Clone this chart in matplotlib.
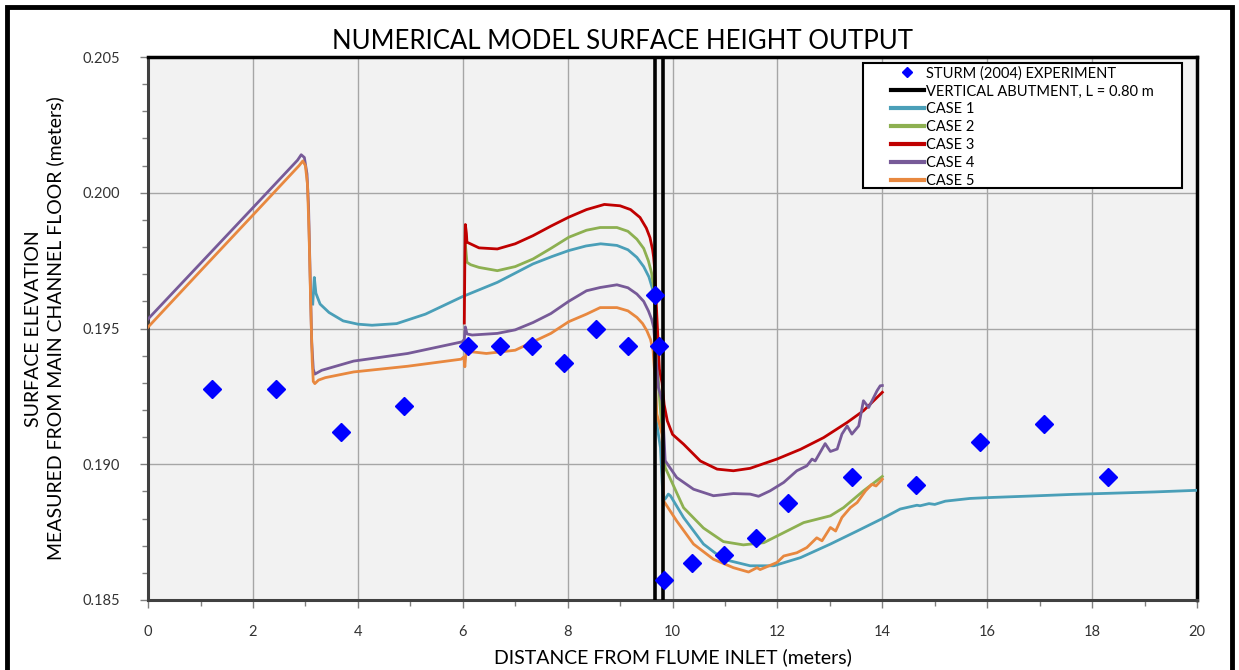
import numpy as np
import matplotlib
matplotlib.use('Agg')
import matplotlib.pyplot as plt
from matplotlib.lines import Line2D
from matplotlib.patches import Rectangle
from matplotlib.ticker import MultipleLocator, FormatStrFormatter

# Sturm (2004) experiment
sturm_x = [1.22, 2.44, 3.67, 4.88, 6.10, 6.71, 7.32, 7.93, 8.54, 9.15, 9.67, 9.75,
           9.83, 10.37, 10.98, 11.59, 12.21, 13.42, 14.65, 15.87, 17.09, 18.31]
sturm_y = [0.19276, 0.19276, 0.19117, 0.19213, 0.19436, 0.19436, 0.19436, 0.19372,
           0.19500, 0.19436, 0.19625, 0.19436, 0.18575, 0.18638, 0.18664, 0.18730,
           0.18858, 0.18954, 0.18923, 0.19083, 0.19147, 0.18954]

# abutment faces
abutment_x = [9.67, 9.82]

# numerical model cases, (x, y) pairs
case1 = [(3.14, 0.19590), (3.17, 0.19688), (3.20, 0.19630), (3.28, 0.19590), (3.45, 0.19559),
         (3.72, 0.19528), (4.00, 0.19516), (4.27, 0.19512), (4.74, 0.19518), (5.29, 0.19553),
         (5.99, 0.19617), (6.66, 0.19670), (7.34, 0.19738), (7.70, 0.19765), (8.02, 0.19787),
         (8.35, 0.19804), (8.63, 0.19812), (8.94, 0.19806), (9.15, 0.19790), (9.32, 0.19762),
         (9.45, 0.19728), (9.55, 0.19690), (9.63, 0.19639), (9.66, 0.19610),
         (9.69, 0.19160), (9.77, 0.19061), (9.82, 0.18865), (9.87, 0.18875), (9.92, 0.18890),
         (9.96, 0.18884), (10.21, 0.18804), (10.59, 0.18706), (10.97, 0.18650), (11.48, 0.18626),
         (11.93, 0.18626), (12.44, 0.18656), (13.01, 0.18706), (13.52, 0.18754), (13.98, 0.18798),
         (14.34, 0.18835), (14.66, 0.18849), (14.72, 0.18847), (14.89, 0.18855), (15.00, 0.18852),
         (15.20, 0.18864), (15.67, 0.18874), (16.00, 0.18877), (16.84, 0.18883), (17.63, 0.18889),
         (18.33, 0.18893), (19.19, 0.18898), (20.00, 0.18904)]

case2 = [(6.05, 0.19810), (6.08, 0.19744), (6.15, 0.19735), (6.31, 0.19725), (6.66, 0.19713),
         (7.00, 0.19728), (7.34, 0.19756), (7.68, 0.19795), (8.02, 0.19836), (8.36, 0.19862),
         (8.62, 0.19872), (8.94, 0.19872), (9.15, 0.19858), (9.32, 0.19829), (9.45, 0.19795),
         (9.54, 0.19749), (9.60, 0.19705), (9.64, 0.19651),
         (9.68, 0.19550), (9.73, 0.19307), (9.80, 0.19120), (9.86, 0.18988), (10.15, 0.18865),
         (10.21, 0.18840), (10.59, 0.18765), (10.97, 0.18715), (11.35, 0.18703), (11.74, 0.18711),
         (12.12, 0.18748), (12.50, 0.18785), (13.01, 0.18810), (13.26, 0.18840), (13.64, 0.18902),
         (14.00, 0.18955)]

case3 = [(6.03, 0.19520), (6.04, 0.19750), (6.05, 0.19883), (6.07, 0.19850), (6.08, 0.19818),
         (6.31, 0.19797), (6.66, 0.19793), (7.00, 0.19812), (7.34, 0.19842), (7.68, 0.19877),
         (8.02, 0.19910), (8.36, 0.19938), (8.70, 0.19957), (9.00, 0.19952), (9.20, 0.19938),
         (9.38, 0.19909), (9.50, 0.19870), (9.57, 0.19835), (9.62, 0.19790), (9.64, 0.19762),
         (9.66, 0.19720), (9.67, 0.19676), (9.70, 0.19550), (9.75, 0.19350),
         (9.80, 0.19300), (9.84, 0.19220), (9.90, 0.19160), (10.00, 0.19110), (10.21, 0.19074),
         (10.53, 0.19012), (10.85, 0.18982), (11.16, 0.18976), (11.48, 0.18985), (11.99, 0.19019),
         (12.44, 0.19055), (12.88, 0.19098), (13.33, 0.19154), (13.64, 0.19197), (14.00, 0.19265)]

case4 = [(0.00, 0.19535), (1.00, 0.19740), (2.00, 0.19945), (2.85, 0.20120), (2.92, 0.20140),
         (2.98, 0.20130), (3.03, 0.20070), (3.06, 0.19950), (3.09, 0.19700), (3.12, 0.19450),
         (3.15, 0.19350), (3.18, 0.19332), (3.31, 0.19346), (3.92, 0.19380), (4.95, 0.19408),
         (5.99, 0.19451), (6.03, 0.19460), (6.05, 0.19506), (6.08, 0.19480), (6.18, 0.19476),
         (6.66, 0.19482), (7.00, 0.19495), (7.34, 0.19522), (7.68, 0.19555), (8.02, 0.19600),
         (8.36, 0.19639), (8.62, 0.19651), (8.94, 0.19661), (9.15, 0.19650), (9.32, 0.19627),
         (9.45, 0.19600), (9.54, 0.19565), (9.60, 0.19535),
         (9.64, 0.19504), (9.68, 0.19406), (9.73, 0.19283), (9.80, 0.19234), (9.83, 0.19130),
         (9.86, 0.19013), (10.08, 0.18951), (10.40, 0.18908), (10.78, 0.18884), (11.16, 0.18892),
         (11.48, 0.18890), (11.64, 0.18882), (11.86, 0.18902), (12.12, 0.18933), (12.37, 0.18976),
         (12.56, 0.18994), (12.66, 0.19019), (12.72, 0.19012), (12.91, 0.19076), (13.01, 0.19047),
         (13.14, 0.19056), (13.23, 0.19111), (13.33, 0.19141), (13.42, 0.19111), (13.55, 0.19141),
         (13.64, 0.19234), (13.74, 0.19209), (13.90, 0.19271), (13.96, 0.19289), (14.00, 0.19290)]

case5 = [(0.00, 0.19505), (1.00, 0.19712), (2.00, 0.19918), (2.88, 0.20100), (2.95, 0.20117),
         (3.00, 0.20100), (3.04, 0.20030), (3.07, 0.19850), (3.10, 0.19600), (3.13, 0.19380),
         (3.15, 0.19305), (3.18, 0.19297), (3.25, 0.19310), (3.38, 0.19319), (3.92, 0.19340),
         (4.95, 0.19361), (5.97, 0.19387), (6.02, 0.19395), (6.04, 0.19359), (6.06, 0.19408),
         (6.18, 0.19414), (6.45, 0.19408), (7.00, 0.19420), (7.68, 0.19482), (8.02, 0.19525),
         (8.36, 0.19553), (8.62, 0.19577), (8.94, 0.19577), (9.15, 0.19565), (9.32, 0.19541),
         (9.43, 0.19518), (9.51, 0.19492), (9.58, 0.19460),
         (9.63, 0.19418), (9.67, 0.19307), (9.70, 0.19185), (9.80, 0.19111), (9.83, 0.18865),
         (10.08, 0.18791), (10.40, 0.18706), (10.78, 0.18650), (11.16, 0.18619), (11.45, 0.18603),
         (11.61, 0.18619), (11.67, 0.18612), (11.99, 0.18638), (12.12, 0.18662), (12.37, 0.18674),
         (12.56, 0.18693), (12.75, 0.18729), (12.85, 0.18718), (13.01, 0.18767), (13.11, 0.18754),
         (13.23, 0.18804), (13.39, 0.18840), (13.52, 0.18859), (13.68, 0.18902), (13.80, 0.18926),
         (13.88, 0.18920), (14.00, 0.18945)]

cases = [case1, case2, case3, case4, case5]
case_labels = ['CASE 1', 'CASE 2', 'CASE 3', 'CASE 4', 'CASE 5']
case_colors = ['#4A9FB8', '#8DB051', '#C00000', '#775A98', '#E8883F']

x_ticks = [0, 2, 4, 6, 8, 10, 12, 14, 16, 18, 20]
y_ticks = [0.185, 0.190, 0.195, 0.200, 0.205]

plt.rcParams['font.family'] = ['Lato', 'DejaVu Sans']

fig = plt.figure(figsize=(12.39, 6.70), dpi=100)
ax = fig.add_axes([0.1195, 0.1045, 0.8466, 0.8104])
ax.set_facecolor('#F2F2F2')

for data, lab, col in zip(cases, case_labels, case_colors):
    xs, ys = np.array(data).T
    ax.plot(xs, ys, color=col, lw=2.0, label=lab, zorder=3)

for xa in abutment_x:
    ax.plot([xa, xa], [y_ticks[0], y_ticks[-1]], color='black', lw=2.6, zorder=4)

ax.plot(sturm_x, sturm_y, 'D', color='#0000FF', ms=9, ls='none', zorder=5)

ax.set_xlim(x_ticks[0], x_ticks[-1])
ax.set_ylim(y_ticks[0], y_ticks[-1])
ax.set_xticks(x_ticks)
ax.set_yticks(y_ticks)
ax.xaxis.set_minor_locator(MultipleLocator(1))
ax.yaxis.set_minor_locator(MultipleLocator(0.001))
ax.yaxis.set_major_formatter(FormatStrFormatter('%.3f'))
ax.tick_params(which='major', length=6, width=1, color='#808080', labelsize=10.5,
               labelcolor='#333333')
ax.tick_params(which='minor', length=4, width=1, color='#808080')
ax.tick_params(axis='x', pad=12)
ax.tick_params(axis='y', pad=14)
ax.grid(which='major', color='#A6A6A6', lw=1)
ax.set_axisbelow(True)

for s in ['top', 'right']:
    ax.spines[s].set_color('black')
    ax.spines[s].set_linewidth(2.5)
for s in ['left', 'bottom']:
    ax.spines[s].set_color('#404040')
    ax.spines[s].set_linewidth(2.2)

# title is centred on the whole figure, not on the plot area
fig.text(622 / 1239, 1 - 49 / 670, 'NUMERICAL MODEL SURFACE HEIGHT OUTPUT',
         fontsize=18.5, ha='center', va='baseline')
ax.set_xlabel('DISTANCE FROM FLUME INLET (meters)', fontsize=14, labelpad=7)
ax.set_ylabel('SURFACE ELEVATION\nMEASURED FROM MAIN CHANNEL FLOOR (meters)',
              fontsize=14, labelpad=13, linespacing=1.3)

# legend: box drawn separately so the entries can sit indented like the original
ax.add_patch(Rectangle((0.682, 0.758), 0.304, 0.231, transform=ax.transAxes,
                       facecolor='white', edgecolor='black', lw=1.5, zorder=6))
handles = [Line2D([], [], marker='D', color='#0000FF', ls='none', ms=5.5),
           Line2D([], [], color='black', lw=3)]
handles += [Line2D([], [], color=c, lw=3) for c in case_colors]
labels = ['STURM (2004) EXPERIMENT', 'VERTICAL ABUTMENT, L = 0.80 m'] + case_labels
leg = ax.legend(handles, labels, loc='upper left', bbox_to_anchor=(0.708, 0.983),
                borderaxespad=0, borderpad=0, frameon=False, fontsize=10.5,
                labelspacing=0.27, handlelength=2.3, handletextpad=0.1)
leg.set_zorder(7)

fig.patches.append(Rectangle((7 / 1239, -0.02), 1 - 14 / 1239, 1.02 - 7 / 670,
                             transform=fig.transFigure, fill=False, lw=3.5,
                             edgecolor='black'))

fig.savefig('out.png', dpi=100)
